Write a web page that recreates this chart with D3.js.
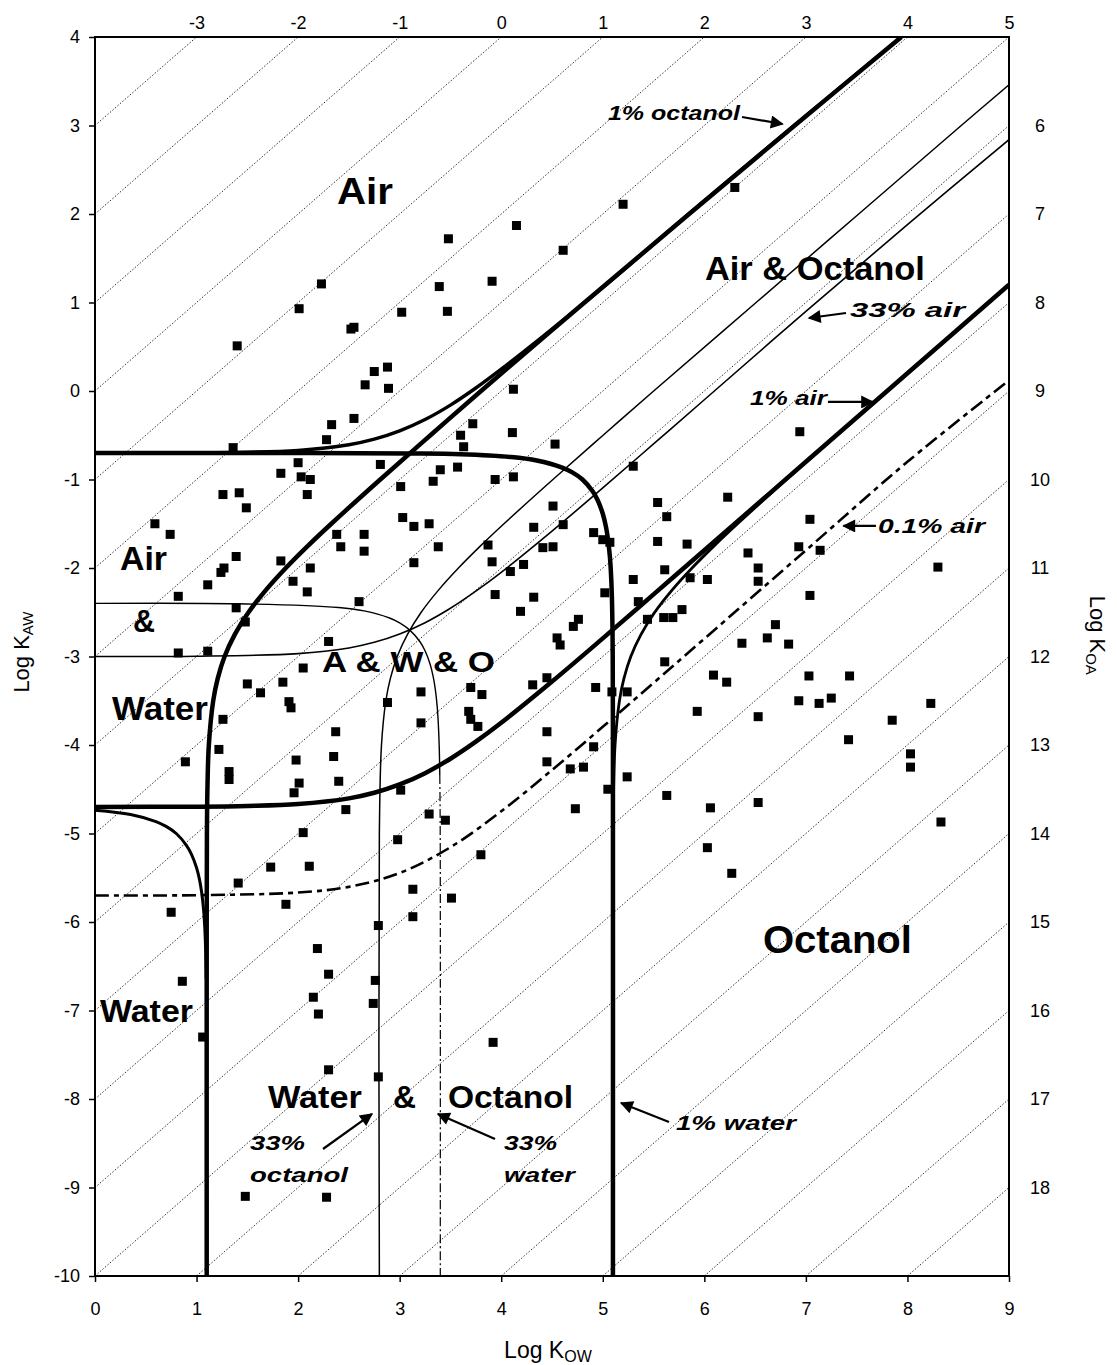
<!DOCTYPE html>
<html><head><meta charset="utf-8">
<script src="https://cdn.jsdelivr.net/npm/d3@7"></script>
<style>
body{margin:0;background:#fff;}
text{font-family:"Liberation Sans",Arial,Helvetica,sans-serif;fill:#000;}
</style>
</head><body>
<svg id="chart" width="1117" height="1365"></svg>
<script>
// ---------------- data ----------------
const kowTicks = [0,1,2,3,4,5,6,7,8,9];
const kawTicks = [-10,-9,-8,-7,-6,-5,-4,-3,-2,-1,0,1,2,3,4];
const koaTopTicks = [-3,-2,-1,0,1,2,3,4,5];
const koaRightTicks = [6,7,8,9,10,11,12,13,14,15,16,17,18];
const koaGrid = [-3,-2,-1,0,1,2,3,4,5,6,7,8,9,10,11,12,13,14,15,16,17,18];

// chemicals: [log Kow, log Kaw]
const chemicals = [
 [5.20,2.11],[6.30,2.30],[4.15,1.87],[4.61,1.59],[3.48,1.72],[3.91,1.24],[3.39,1.18],[3.47,0.90],[3.02,0.89],[2.23,1.21],
 [2.01,0.93],[1.40,0.51],[2.52,0.70],[2.55,0.72],[2.75,0.22],[2.88,0.27],[2.66,0.07],[2.89,0.03],[4.12,0.02],
 [2.33,-0.38],[2.55,-0.31],[3.72,-0.37],[4.11,-0.47],[3.60,-0.50],[2.28,-0.55],[4.53,-0.60],[1.36,-0.64],[3.63,-0.63],
 [2.81,-0.83],[2.00,-0.81],[1.83,-0.93],[2.03,-0.97],[2.12,-1.00],[2.09,-1.17],[1.26,-1.17],[1.42,-1.15],[1.49,-1.32],
 [0.59,-1.50],[0.74,-1.62],[2.38,-1.62],[2.42,-1.76],[2.65,-1.62],[2.65,-1.81],[1.39,-1.87],[1.27,-2.00],[1.24,-2.05],
 [1.83,-1.92],[2.12,-2.00],[1.11,-2.19],[1.95,-2.15],[2.09,-2.27],[0.82,-2.32],[1.39,-2.45],[1.48,-2.61],[2.60,-2.38],
 [0.82,-2.96],[1.11,-2.94],[2.30,-2.83],[2.05,-3.13],[1.50,-3.31],[1.63,-3.41],[1.85,-3.29],[1.91,-3.51],[1.93,-3.58],
 [2.37,-3.85],[2.88,-3.52],[1.26,-3.71],
 [3.40,-0.89],[3.33,-1.02],[3.57,-0.86],[3.94,-1.00],[4.12,-0.97],[3.01,-1.08],[5.30,-0.85],[4.51,-1.30],[3.03,-1.43],
 [3.14,-1.53],[3.29,-1.50],[4.32,-1.54],[4.61,-1.51],[3.38,-1.76],[3.87,-1.74],[4.41,-1.77],[4.51,-1.76],[3.14,-1.94],
 [3.91,-1.93],[4.09,-2.04],[4.22,-1.96],[4.91,-1.60],[5.00,-1.68],[5.07,-1.71],[3.94,-2.30],[4.32,-2.33],[4.19,-2.49],
 [4.76,-2.58],[4.71,-2.66],[5.02,-2.28],[5.30,-2.13],[5.54,-1.26],[5.63,-1.42],[5.54,-1.70],[5.83,-1.73],[6.23,-1.20],
 [6.43,-1.83],[6.53,-2.00],[6.53,-2.15],[5.61,-2.02],[5.35,-2.38],[5.86,-2.11],[6.03,-2.13],[5.60,-2.56],[5.78,-2.47],
 [5.69,-2.56],[5.44,-2.58],[4.55,-2.79],[4.58,-2.87],[5.61,-3.06],[6.37,-2.85],[6.62,-2.79],[6.70,-2.64],[6.09,-3.21],
 [6.22,-3.29],[5.93,-3.62],[6.53,-3.68],[4.31,-3.32],[4.45,-3.24],[4.93,-3.35],[5.09,-3.40],[5.24,-3.40],[3.70,-3.35],
 [3.81,-3.43],[3.21,-3.40],[3.68,-3.62],[3.70,-3.71],[3.21,-3.75],[4.45,-3.85],[3.77,-3.79],
 [6.94,-0.46],[7.04,-1.45],[6.93,-1.76],[7.14,-1.80],[8.30,-1.99],[7.04,-2.31],[6.83,-2.86],[7.03,-3.22],[7.43,-3.22],
 [6.93,-3.50],[7.13,-3.53],[7.25,-3.47],[7.85,-3.72],[8.23,-3.53],[7.42,-3.94],[8.03,-4.10],[8.03,-4.25],[8.33,-4.87],
 [0.89,-4.19],[1.22,-4.05],[1.32,-4.30],[1.32,-4.39],[1.98,-4.17],[2.35,-4.13],[2.01,-4.43],[1.96,-4.54],[2.40,-4.41],
 [2.47,-4.73],[2.98,-5.07],[2.05,-4.99],[1.73,-5.38],[2.11,-5.37],[1.41,-5.56],[1.88,-5.80],[0.75,-5.89],[2.79,-6.04],
 [2.19,-6.30],[2.30,-6.59],[0.86,-6.67],[2.76,-6.66],[2.15,-6.85],[2.20,-7.04],[2.74,-6.92],[1.06,-7.30],[2.30,-7.67],
 [2.79,-7.75],[1.48,-9.10],[2.28,-9.11],
 [4.45,-4.19],[4.68,-4.27],[4.81,-4.25],[4.91,-4.02],[5.05,-4.50],[5.24,-4.36],[4.73,-4.72],[3.01,-4.51],[3.29,-4.78],
 [3.45,-4.85],[3.80,-5.24],[3.13,-5.63],[3.51,-5.73],[3.13,-5.94],[5.63,-4.57],[6.06,-4.71],[6.53,-4.65],[6.03,-5.16],
 [6.27,-5.45],[3.92,-7.36]
];

// boundary lines: [log Kow, log Kaw]
const water1 = [[0,-0.70],[2.1,-0.70],[3.1,-0.705],[3.6,-0.714],[4.1,-0.746],[4.35,-0.785],[4.6,-0.865],[4.7,-0.92],[4.8,-1.0],
 [4.9,-1.133],[4.95,-1.235],[5.0,-1.387],[5.03,-1.527],[5.05,-1.664],[5.07,-1.872],[5.08,-2.045],[5.09,-2.337],[5.095,-2.64],
 [5.098,-3.0],[5.1,-4],[5.1,-10]];
const octanol1 = [[1.1,-10],[1.1,-6],[1.102,-5],[1.107,-4.5],[1.121,-4],[1.164,-3.5],[1.208,-3.25],[1.276,-3],[1.377,-2.75],
 [1.512,-2.5],[1.682,-2.25],[1.879,-2],[2.096,-1.75],[2.327,-1.5],[2.809,-1],[3.303,-0.5],[3.801,0],[4.82,1],[5.85,2],[6.89,3],[7.94,4]];
const air1 = [[0,-4.70],[1,-4.697],[1.5,-4.689],[2,-4.667],[2.5,-4.603],[2.75,-4.54],[3,-4.446],[3.25,-4.318],[3.5,-4.155],
 [3.75,-3.962],[4,-3.749],[4.5,-3.283],[5,-2.795],[5.5,-2.298],[6,-1.799],[7,-0.8],[8,0.2],[9,1.2]];
const air33 = [[0,-3.0],[1,-2.997],[2,-2.967],[2.5,-2.903],[2.75,-2.84],[3,-2.746],[3.25,-2.618],[3.5,-2.455],[3.75,-2.262],
 [4,-2.049],[4.5,-1.583],[5,-1.095],[5.5,-0.598],[6,-0.099],[7,0.9],[8,1.88],[9,2.84]];
const air01 = [[0,-5.7],[1,-5.697],[2,-5.667],[2.5,-5.603],[3,-5.446],[3.5,-5.155],[4,-4.749],[4.5,-4.283],[5,-3.795],
 [5.5,-3.298],[6,-2.799],[7,-1.8],[8,-0.8],[9,0.12]];
const air99 = [[0,-0.704],[1,-0.70],[2,-0.671],[2.5,-0.607],[2.75,-0.544],[3,-0.45],[3.25,-0.322],[3.5,-0.159],[3.75,0.034],
 [4,0.247],[4.5,0.70],[5,1.17],[5.5,1.66],[6,2.15],[7,3.11],[7.94,4]];
const octanol33 = [[2.8,-10],[2.8,-5],[2.821,-4],[2.864,-3.5],[2.908,-3.25],[2.976,-3],[3.077,-2.75],[3.212,-2.5],[3.382,-2.25],
 [3.579,-2],[3.796,-1.75],[4.027,-1.5],[4.509,-1],[5.003,-0.5],[5.501,0],[6.51,1],[7.52,2],[8.53,3],[9,3.46]];
const octanol99 = [[5.1,-10],[5.1,-5],[5.121,-4],[5.164,-3.5],[5.208,-3.25],[5.276,-3],[5.377,-2.75],[5.512,-2.5],[5.682,-2.25],
 [5.879,-2],[6.096,-1.75],[6.327,-1.5],[6.809,-1],[7.303,-0.5],[7.801,0],[8.8,1],[9,1.2]];
const water33Upper = [[0,-2.4],[1.4,-2.404],[2.4,-2.446],[2.65,-2.485],[2.9,-2.565],[3.0,-2.62],[3.1,-2.702],[3.2,-2.833],
 [3.25,-2.935],[3.3,-3.087],[3.33,-3.227],[3.35,-3.364],[3.37,-3.572],[3.38,-3.745],[3.39,-4.037],[3.395,-4.34]];
const water33Lower = [[3.395,-4.34],[3.398,-4.7],[3.4,-5.5],[3.4,-10]];
const water99 = [[0,-4.736],[0.35,-4.785],[0.6,-4.865],[0.7,-4.92],[0.8,-5.0],[0.9,-5.133],[0.95,-5.235],[1.0,-5.387],
 [1.03,-5.527],[1.05,-5.664],[1.07,-5.872],[1.08,-6.045],[1.09,-6.337],[1.095,-6.64]];

// ---------------- drawing ----------------
const svg = d3.select("#chart");
const x = d3.scaleLinear().domain([0,9]).range([95,1009]);
const y = d3.scaleLinear().domain([-10,4]).range([1276,37]);
const xTop = d3.scaleLinear().domain([-4,5]).range([x(0),x(9)]);
const yRight = d3.scaleLinear().domain([19,5]).range([y(-10),y(4)]);

svg.append("rect").attr("width",1117).attr("height",1365).attr("fill","#fff");

const defs = svg.append("defs");
defs.append("clipPath").attr("id","plotclip").append("rect")
  .attr("x",x(0)).attr("y",y(4)).attr("width",x(9)-x(0)).attr("height",y(-10)-y(4));
defs.append("marker").attr("id","ah").attr("viewBox","0 0 10 10")
  .attr("refX",9).attr("refY",5).attr("markerWidth",17).attr("markerHeight",13)
  .attr("markerUnits","userSpaceOnUse").attr("orient","auto")
  .append("path").attr("d","M0,0 L10,5 L0,10 z").attr("fill","#000");

const plot = svg.append("g").attr("clip-path","url(#plotclip)");

// dotted iso-KOA lines
plot.selectAll("line.grid").data(koaGrid).enter().append("line")
  .attr("class","grid")
  .attr("x1",k=>x(Math.max(0,k-10))).attr("y1",k=>y(Math.max(0,k-10)-k))
  .attr("x2",k=>x(Math.min(9,k+4))).attr("y2",k=>y(Math.min(9,k+4)-k))
  .attr("stroke","#333").attr("stroke-width",1).attr("stroke-dasharray","1.5,1.8");

const line = d3.line().x(d=>x(d[0])).y(d=>y(d[1])).curve(d3.curveCatmullRom.alpha(0.5));
const boundaries = [
  {d:water33Upper, w:1.4, dash:null},
  {d:water33Lower, w:1.2, dash:"9,3,2,3"},
  {d:air33, w:1.6, dash:null},
  {d:octanol33, w:1.5, dash:null},
  {d:air01, w:2.6, dash:"14,5,5,5"},
  {d:water99, w:3, dash:null},
  {d:octanol99, w:2.8, dash:null},
  {d:air99, w:3.4, dash:null},
  {d:air1, w:4.5, dash:null},
  {d:octanol1, w:4.5, dash:null},
  {d:water1, w:4.5, dash:null}
];
plot.selectAll("path.bnd").data(boundaries).enter().append("path")
  .attr("class","bnd").attr("d",b=>line(b.d)).attr("fill","none")
  .attr("stroke","#000").attr("stroke-width",b=>b.w)
  .attr("stroke-dasharray",b=>b.dash).attr("stroke-linejoin","round");

// chemicals
const sq = 9;
plot.selectAll("rect.pt").data(chemicals).enter().append("rect")
  .attr("class","pt").attr("x",d=>x(d[0])-sq/2).attr("y",d=>y(d[1])-sq/2)
  .attr("width",sq).attr("height",sq).attr("fill","#000");

// frame
svg.append("rect").attr("x",x(0)).attr("y",y(4)).attr("width",x(9)-x(0)).attr("height",y(-10)-y(4))
  .attr("fill","none").attr("stroke","#000").attr("stroke-width",2);

// axes
const fmt = d=>String(d);
function styleAxis(g){ g.select(".domain").remove(); g.selectAll("text").style("font-size","18px").attr("fill","#000");
  g.selectAll("line").attr("stroke","#000").attr("stroke-width",1.5); }
svg.append("g").attr("transform",`translate(0,${y(-10)})`)
  .call(d3.axisBottom(x).tickValues(kowTicks).tickFormat(fmt).tickSize(6).tickPadding(20)).call(styleAxis);
svg.append("g").attr("transform",`translate(${x(0)},0)`)
  .call(d3.axisLeft(y).tickValues(kawTicks).tickFormat(fmt).tickSize(6).tickPadding(9)).call(styleAxis);
svg.append("g").attr("transform",`translate(0,${y(4)})`)
  .call(d3.axisTop(xTop).tickValues(koaTopTicks).tickFormat(fmt).tickSize(0).tickPadding(8)).call(styleAxis);
const gr = svg.append("g").attr("transform",`translate(${x(9)},0)`)
  .call(d3.axisRight(yRight).tickValues(koaRightTicks).tickFormat(fmt).tickSize(0).tickPadding(20)).call(styleAxis);
gr.selectAll("text").attr("text-anchor","middle").attr("x",31);

// axis titles
const tB = svg.append("text").attr("x",x(4.46)).attr("y",1358).attr("text-anchor","middle").style("font-size","23px");
tB.append("tspan").text("Log K");
tB.append("tspan").text("OW").style("font-size","16px").attr("dy",4);
const tL = svg.append("text").attr("transform",`translate(29,${y(-2.95)}) rotate(-90)`).attr("text-anchor","middle").style("font-size","22px");
tL.append("tspan").text("Log K");
tL.append("tspan").text("AW").style("font-size","15px").attr("dy",4);
const tR = svg.append("text").attr("transform",`translate(1090,${y(-2.76)}) rotate(90)`).attr("text-anchor","middle").style("font-size","22px");
tR.append("tspan").text("Log K");
tR.append("tspan").text("OA").style("font-size","15px").attr("dy",4);

// region labels
const regions = [
  {t:"Air", x:2.383, y:2.113, fs:36, w:56},
  {t:"Air & Octanol", x:6.006, y:1.254, fs:33, w:220},
  {t:"Octanol", x:6.577, y:-6.35, fs:38, w:149},
  {t:"Air", x:0.246, y:-2.023, fs:33, w:47},
  {t:"&", x:0.374, y:-2.723, fs:31, w:22},
  {t:"Water", x:0.167, y:-3.718, fs:33, w:96},
  {t:"A & W & O", x:2.235, y:-3.175, fs:29, w:173},
  {t:"Water", x:0.049, y:-7.13, fs:32, w:93},
  {t:"Water", x:1.703, y:-8.102, fs:32, w:94},
  {t:"&", x:2.934, y:-8.102, fs:32, w:23},
  {t:"Octanol", x:3.476, y:-8.102, fs:32, w:125}
];
svg.selectAll("text.region").data(regions).enter().append("text").attr("class","region")
  .attr("x",d=>x(d.x)).attr("y",d=>y(d.y)).text(d=>d.t)
  .style("font-size",d=>d.fs+"px").style("font-weight","bold")
  .attr("textLength",d=>d.w).attr("lengthAdjust","spacingAndGlyphs");

// annotations
const notes = [
  {t:"1% octanol", x:5.051, y:3.062, w:132},
  {t:"33% air", x:7.434, y:0.836, w:115},
  {t:"1% air", x:6.449, y:-0.158, w:77},
  {t:"0.1% air", x:7.71, y:-1.605, w:107},
  {t:"1% water", x:5.721, y:-8.35, w:120},
  {t:"33%", x:1.526, y:-8.576, w:55},
  {t:"octanol", x:1.526, y:-8.938, w:98},
  {t:"33%", x:4.027, y:-8.576, w:53},
  {t:"water", x:4.027, y:-8.938, w:71}
];
svg.selectAll("text.note").data(notes).enter().append("text").attr("class","note")
  .attr("x",d=>x(d.x)).attr("y",d=>y(d.y)).text(d=>d.t)
  .style("font-size","20px").style("font-weight","bold").style("font-style","italic")
  .attr("textLength",d=>d.w).attr("lengthAdjust","spacingAndGlyphs");

const arrows = [
  [[6.371,3.096],[6.77,3.017]],
  [[7.395,0.881],[7.03,0.825]],
  [[7.217,-0.124],[7.66,-0.124]],
  [[7.69,-1.525],[7.37,-1.525]],
  [[5.652,-8.26],[5.18,-8.045]],
  [[2.245,-8.565],[2.727,-8.169]],
  [[3.939,-8.452],[3.377,-8.169]]
];
svg.selectAll("line.arrow").data(arrows).enter().append("line").attr("class","arrow")
  .attr("x1",d=>x(d[0][0])).attr("y1",d=>y(d[0][1]))
  .attr("x2",d=>x(d[1][0])).attr("y2",d=>y(d[1][1]))
  .attr("stroke","#000").attr("stroke-width",2.2).attr("marker-end","url(#ah)");
</script>
</body></html>
